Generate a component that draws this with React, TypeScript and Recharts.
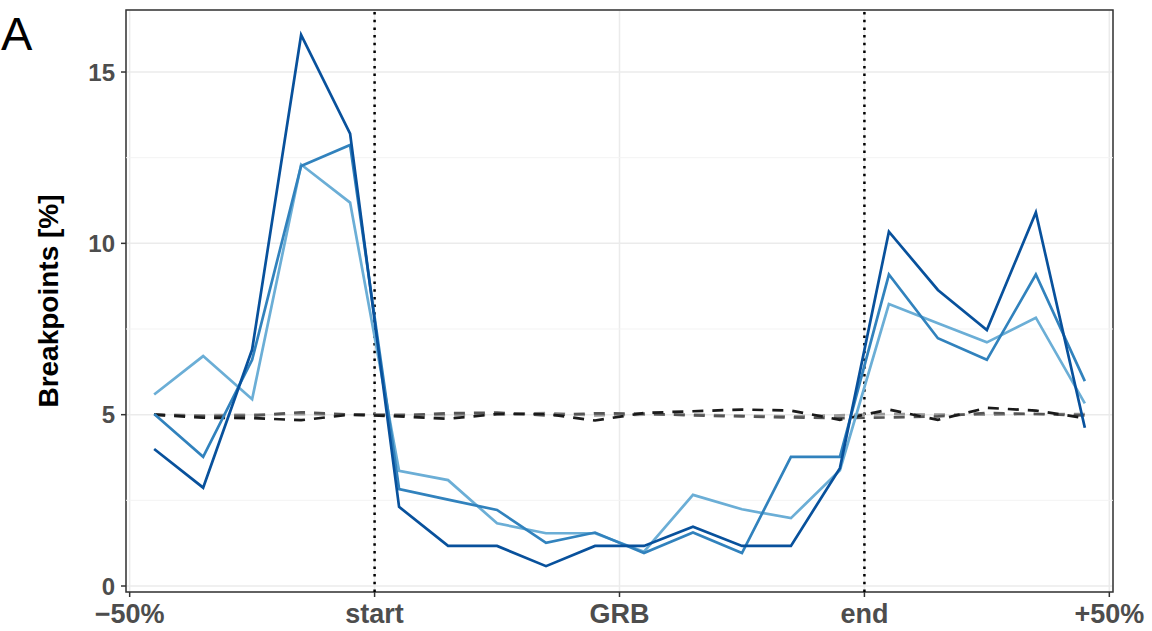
import React from 'react';
import { LineChart, Line, XAxis, YAxis, CartesianGrid, ReferenceLine, ReferenceArea } from 'recharts';

// bin centres, in units of the region (0 = -50%, 1 = start, 2 = GRB, 3 = end, 4 = +50%)
const xPos = [0.1, 0.3, 0.5, 0.7, 0.9, 1.1, 1.3, 1.5, 1.7, 1.9, 2.1, 2.3, 2.5, 2.7, 2.9, 3.1, 3.3, 3.5, 3.7, 3.9];

const xTicks = [0, 1, 2, 3, 4];
const xTickLabels = ['\u221250%', 'start', 'GRB', 'end', '+50%'];
const yTicks = [0, 5, 10, 15];
const yMinor = [2.5, 7.5, 12.5];
const markers = [1, 3];

// observed breakpoints (three thresholds)
const dark = [4.0, 2.87, 6.9, 16.08, 13.2, 2.31, 1.17, 1.17, 0.58, 1.17, 1.17, 1.73, 1.17, 1.17, 3.44, 10.34, 8.64, 7.47, 10.9, 4.62];
const mid = [5.02, 3.77, 6.6, 12.26, 12.87, 2.83, 2.52, 2.22, 1.26, 1.56, 0.96, 1.56, 0.96, 3.77, 3.77, 9.09, 7.23, 6.6, 9.09, 5.98];
const light = [5.59, 6.71, 5.45, 12.3, 11.19, 3.36, 3.09, 1.83, 1.54, 1.54, 1.0, 2.66, 2.24, 1.98, 3.38, 8.23, 7.67, 7.11, 7.83, 5.33];

// random expectation
const ctrl1 = [5.0, 4.91, 4.9, 4.84, 5.0, 4.95, 4.88, 5.02, 5.02, 4.83, 5.05, 5.1, 5.15, 5.12, 4.85, 5.15, 4.85, 5.2, 5.12, 4.9];
const ctrl2 = [5.0, 4.95, 4.97, 5.07, 5.0, 4.98, 5.04, 5.06, 4.98, 5.04, 5.03, 4.98, 4.95, 4.92, 4.9, 4.92, 4.95, 5.05, 5.02, 4.98];
const ctrl3 = [5.0, 4.98, 5.0, 5.02, 5.0, 5.0, 4.98, 5.0, 5.05, 4.98, 5.0, 5.0, 4.97, 4.95, 4.98, 5.02, 5.0, 5.0, 5.02, 5.02];

const data = xPos.map((x, i) => ({
  x,
  dark: dark[i],
  mid: mid[i],
  light: light[i],
  c1: ctrl1[i],
  c2: ctrl2[i],
  c3: ctrl3[i],
}));

const X_DOMAIN: [number, number] = [-0.015, 4.015];
const Y_DOMAIN: [number, number] = [-0.175, 16.81];

const font = '"Liberation Sans", Arial, Helvetica, sans-serif';
const xTickStyle = { fill: '#4D4D4D', fontSize: 27, fontWeight: 'bold' as const, fontFamily: font };
const yTickStyle = { fill: '#4D4D4D', fontSize: 24, fontWeight: 'bold' as const, fontFamily: font };

const YLabel = ({ viewBox }: any) => {
  const cx = viewBox.x + 48;
  const cy = viewBox.y + viewBox.height / 2;
  return (
    <text
      x={cx}
      y={cy}
      transform={`rotate(-90, ${cx}, ${cy})`}
      textAnchor="middle"
      dominantBaseline="central"
      style={{ fontSize: 28, fontWeight: 'bold', fontFamily: font, fill: '#000' }}
    >
      Breakpoints [%]
    </text>
  );
};

export default function App() {
  return (
    <div style={{ position: 'absolute', left: 0, top: 0, width: 1152, height: 631, background: '#fff' }}>
      <div style={{ position: 'absolute', left: 1, top: 7, fontFamily: font, fontSize: 47, lineHeight: '54px', color: '#000' }}>
        A
      </div>
      <LineChart width={1152} height={631} data={data} margin={{ top: 10, right: 39, left: 0, bottom: 0 }}>
        <CartesianGrid stroke="#EBEBEB" strokeWidth={1.5} />
        {yMinor.map((v) => (
          <ReferenceLine key={`minor-${v}`} y={v} stroke="#F3F3F3" strokeWidth={1} />
        ))}
        <XAxis
          dataKey="x"
          type="number"
          domain={X_DOMAIN}
          allowDataOverflow
          ticks={xTicks}
          interval={0}
          tickFormatter={(v: number) => xTickLabels[xTicks.indexOf(v)]}
          height={39}
          tickSize={5}
          tickMargin={7}
          axisLine={false}
          tickLine={{ stroke: '#333', strokeWidth: 1.5 }}
          tick={xTickStyle}
        />
        <YAxis
          type="number"
          domain={Y_DOMAIN}
          allowDataOverflow
          ticks={yTicks}
          interval={0}
          width={126}
          tickSize={5}
          tickMargin={6}
          axisLine={false}
          tickLine={{ stroke: '#333', strokeWidth: 1.5 }}
          tick={yTickStyle}
          label={<YLabel />}
        />
        {markers.map((m) => (
          <ReferenceLine key={`mark-${m}`} x={m} stroke="#000" strokeWidth={2.5} strokeDasharray="2.5 5.2" />
        ))}
        <Line dataKey="c3" stroke="#999999" strokeWidth={2.7} strokeDasharray="11 9" dot={false} isAnimationActive={false} />
        <Line dataKey="c2" stroke="#555555" strokeWidth={2.7} strokeDasharray="11 9" dot={false} isAnimationActive={false} />
        <Line dataKey="c1" stroke="#1A1A1A" strokeWidth={2.7} strokeDasharray="11 9" dot={false} isAnimationActive={false} />
        <Line dataKey="light" stroke="#6BAED6" strokeWidth={2.7} dot={false} isAnimationActive={false} />
        <Line dataKey="mid" stroke="#3182BD" strokeWidth={2.7} dot={false} isAnimationActive={false} />
        <Line dataKey="dark" stroke="#08519C" strokeWidth={2.7} dot={false} isAnimationActive={false} />
        <ReferenceArea
          x1={X_DOMAIN[0]}
          x2={X_DOMAIN[1]}
          y1={Y_DOMAIN[0]}
          y2={Y_DOMAIN[1]}
          fill="none"
          stroke="#333333"
          strokeWidth={1.5}
        />
      </LineChart>
    </div>
  );
}
